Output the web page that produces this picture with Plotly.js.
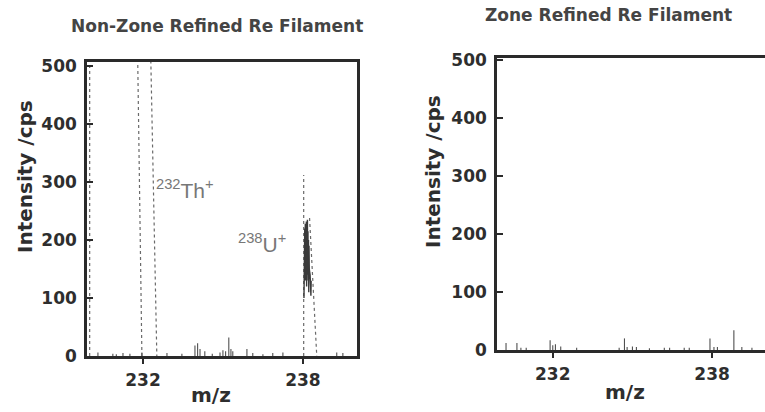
<!DOCTYPE html>
<html>
<head>
<meta charset="utf-8">
<script src="https://cdn.plot.ly/plotly-3.0.1.min.js"></script>
<style>
  html, body { margin: 0; padding: 0; overflow: hidden; background: #ffffff; }
  #chart { width: 770px; height: 412px; }
</style>
</head>
<body>
<div id="chart"></div>
<script>
// ---------- data (m/z, intensity in cps) ----------
// Non-Zone Refined Re filament
var leftEdgeX = [230.0, 230.0];
var leftEdgeY = [0, 520];
var thX = [231.96, 231.80, null, 232.29, 232.52];
var thY = [0, 520, null, 520, 0];
var uOutlineX = [238.03, 238.03, null, 238.25, 238.52];
var uOutlineY = [0, 312, null, 238, 0];
var uCoreX = [238.04, 238.05, 238.06, 238.07, 238.08, 238.09, 238.10, 238.11, 238.12, 238.13,
              238.14, 238.15, 238.16, 238.17, 238.18, 238.19, 238.20, 238.21, 238.22, 238.23,
              238.24, 238.27, 238.29, 238.30, 238.31];
var uCoreY = [100, 205, 120, 220, 140, 228, 130, 225, 150, 232,
              120, 222, 160, 235, 140, 215, 130, 200, 110, 190,
              150, 140, 120, 104, 130];
var noiseLeftX = [230.31, 230.87, 231.0, 231.25, 231.51, 231.96, 232.9, 233.46, 233.95, 234.05,
                  234.14, 234.32, 234.6, 234.89, 235.0, 235.1, 235.22, 235.3, 235.37, 235.9,
                  236.12, 236.5, 236.87, 237.25, 239.27, 239.5];
var noiseLeftY = [6, 4, 3, 5, 4, 6, 5, 4, 18, 22,
                  12, 8, 4, 6, 10, 8, 32, 12, 8, 12,
                  5, 3, 5, 6, 6, 5];

// Zone Refined Re filament
var noiseRightX = [230.24, 230.65, 230.8, 231.0, 231.9, 232.0, 232.1, 232.3, 232.9, 234.5,
                   234.7, 234.8, 235.0, 235.15, 235.64, 236.2, 236.4, 236.95, 237.14, 237.92,
                   238.07, 238.2, 238.82, 239.12, 239.5];
var noiseRightY = [12, 12, 4, 4, 17, 8, 10, 6, 4, 4,
                   20, 5, 6, 5, 3, 4, 4, 4, 4, 20,
                   5, 5, 34, 5, 4];

var xTicks = [232, 238];
var xTickText = ['232', '238'];
var yTicks = [0, 100, 200, 300, 400, 500];

// ---------- helpers ----------
function spikes(xs, ys) {
  var x = [], y = [];
  for (var i = 0; i < xs.length; i++) {
    x.push(xs[i], xs[i], null);
    y.push(0, ys[i], null);
  }
  return {x: x, y: y};
}

var W = 770, H = 412;
function px(v) { return v / W; }
function py(v) { return 1 - v / H; }

var dotLine = {color: '#6a6a6a', width: 1.2, dash: 'dot'};
var nl = spikes(noiseLeftX, noiseLeftY);
var nr = spikes(noiseRightX, noiseRightY);

var traces = [
  {x: leftEdgeX, y: leftEdgeY, mode: 'lines', line: dotLine, xaxis: 'x', yaxis: 'y', showlegend: false},
  {x: thX, y: thY, mode: 'lines', line: dotLine, xaxis: 'x', yaxis: 'y', showlegend: false},
  {x: uOutlineX, y: uOutlineY, mode: 'lines', line: dotLine, xaxis: 'x', yaxis: 'y', showlegend: false},
  {x: uCoreX, y: uCoreY, mode: 'lines', line: {color: '#3a3a3a', width: 1.4}, xaxis: 'x', yaxis: 'y', showlegend: false},
  {x: nl.x, y: nl.y, mode: 'lines', line: {color: '#505050', width: 1.1}, xaxis: 'x', yaxis: 'y', showlegend: false},
  {x: nr.x, y: nr.y, mode: 'lines', line: {color: '#505050', width: 1.1}, xaxis: 'x2', yaxis: 'y2', showlegend: false}
];

var tickFont = {family: 'DejaVu Sans', size: 17, color: '#2e2e2e', weight: 'bold'};
var axisCommon = {
  showline: true, linecolor: '#2a2a2a', linewidth: 2.5, mirror: true,
  showgrid: false, zeroline: false, tickfont: tickFont, tickcolor: '#2a2a2a', tickwidth: 2
};

function xa(domain, anchor) {
  return Object.assign({}, axisCommon, {
    domain: domain, anchor: anchor, range: [229.9, 240.03],
    tickmode: 'array', tickvals: xTicks, ticktext: xTickText,
    ticks: 'outside', ticklen: 5, ticklabelstandoff: 2
  });
}
function ya(domain, anchor, top) {
  return Object.assign({}, axisCommon, {
    domain: domain, anchor: anchor, range: [0, top],
    tickmode: 'array', tickvals: yTicks,
    ticks: 'inside', ticklen: 6, ticklabelstandoff: 4
  });
}

var titleFont = {family: 'DejaVu Sans', size: 17, color: '#444444', weight: 'bold'};
var axTitleFont = {family: 'DejaVu Sans', size: 20, color: '#2e2e2e', weight: 'bold'};
var labelFont = {family: 'Liberation Sans', size: 21, color: '#777777'};

var layout = {
  width: W, height: H,
  margin: {l: 0, r: 0, t: 0, b: 0},
  paper_bgcolor: '#ffffff', plot_bgcolor: 'rgba(0,0,0,0)',
  showlegend: false,
  xaxis: xa([87 / W, 357 / W], 'y'),
  yaxis: ya([1 - 356 / H, 1 - 62 / H], 'x', 507),
  xaxis2: xa([497 / W, 766 / W], 'y2'),
  yaxis2: ya([1 - 350 / H, 1 - 58 / H], 'x2', 503),
  annotations: [
    {text: 'Non-Zone Refined Re Filament', xref: 'paper', yref: 'paper', x: px(217), y: py(26),
     xanchor: 'center', yanchor: 'middle', showarrow: false, font: titleFont},
    {text: 'Zone Refined Re Filament', xref: 'paper', yref: 'paper', x: px(608), y: py(15),
     xanchor: 'center', yanchor: 'middle', showarrow: false, font: titleFont},
    {text: 'Intensity /cps', xref: 'paper', yref: 'paper', x: px(25), y: py(177), textangle: -90,
     xanchor: 'center', yanchor: 'middle', showarrow: false, font: axTitleFont},
    {text: 'Intensity /cps', xref: 'paper', yref: 'paper', x: px(433), y: py(172), textangle: -90,
     xanchor: 'center', yanchor: 'middle', showarrow: false, font: axTitleFont},
    {text: 'm/z', xref: 'paper', yref: 'paper', x: px(211), y: py(395),
     xanchor: 'center', yanchor: 'middle', showarrow: false, font: axTitleFont},
    {text: 'm/z', xref: 'paper', yref: 'paper', x: px(625), y: py(392),
     xanchor: 'center', yanchor: 'middle', showarrow: false, font: axTitleFont},
    {text: '<sup>232</sup>Th<sup>+</sup>', xref: 'x', yref: 'y', x: 232.42, y: 288,
     xanchor: 'left', yanchor: 'middle', showarrow: false, font: labelFont},
    {text: '<sup>238</sup>U<sup>+</sup>', xref: 'x', yref: 'y', x: 235.5, y: 195,
     xanchor: 'left', yanchor: 'middle', showarrow: false, font: labelFont}
  ]
};

Plotly.newPlot('chart', traces, layout, {displayModeBar: false});
</script>
</body>
</html>
